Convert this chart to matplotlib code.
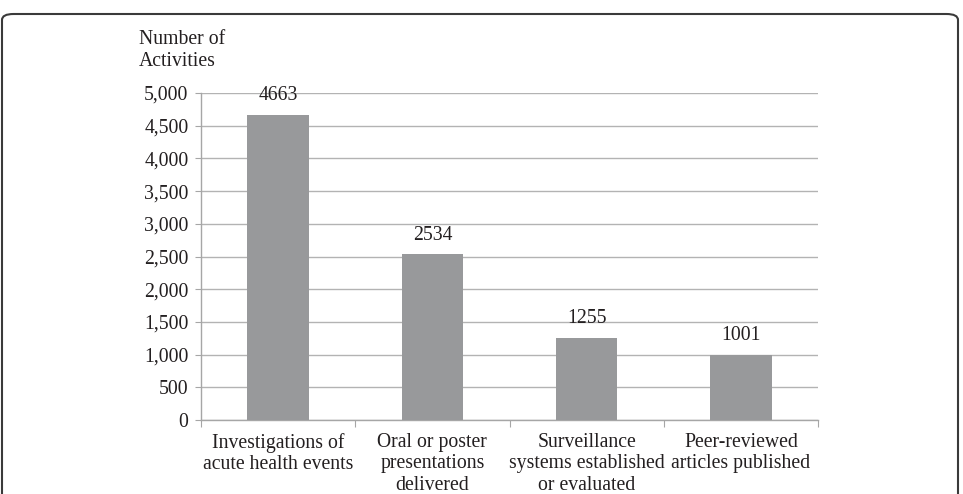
import matplotlib
matplotlib.use("Agg")
import matplotlib.pyplot as plt
from matplotlib.patches import FancyBboxPatch
import numpy as np

categories = ["Investigations of\nacute health events",
              "Oral or poster\npresentations\ndelivered",
              "Surveillance\nsystems established\nor evaluated",
              "Peer-reviewed\narticles published"]
values = [4663, 2534, 1255, 1001]
yticks = [0, 500, 1000, 1500, 2000, 2500, 3000, 3500, 4000, 4500, 5000]
ytick_labels = ["0", "500", "1,000", "1,500", "2,000", "2,500", "3,000", "3,500", "4,000", "4,500", "5,000"]

W, H = 963, 494
fig = plt.figure(figsize=(W/100, H/100), dpi=100)
plt.rcParams['font.family'] = ['Liberation Serif', 'DejaVu Serif']
fs = 14.2
txt_col = "#231f20"

# plot area in pixels: left 201, right 818, top(5000) 93, bottom(0) 420
ax = fig.add_axes([201/W, 1-420/H, (818-201)/W, (420-93)/H])
x = np.arange(len(values))
ax.bar(x, values, width=0.4, color="#98999b", zorder=3)
ax.set_xlim(-0.5, len(values)-0.5)
ax.set_ylim(0, 5000)
ax.set_yticks(yticks)
ax.set_yticklabels(ytick_labels, fontsize=fs, color=txt_col)
ax.yaxis.grid(True, color="#b3b3b3", linewidth=1.0, zorder=0)
ax.set_axisbelow(True)
for s in ["top", "right"]:
    ax.spines[s].set_visible(False)
for s in ["left", "bottom"]:
    ax.spines[s].set_color("#a6a6a6")
    ax.spines[s].set_linewidth(1.0)
ax.tick_params(axis='y', length=4, color="#a6a6a6", pad=5)
# category separators as ticks
ax.set_xticks(np.arange(-0.5, len(values), 1.0))
ax.set_xticklabels([])
ax.tick_params(axis='x', length=5, color="#a6a6a6")
for i, c in enumerate(categories):
    ax.text(i, -0.04, c, transform=ax.get_xaxis_transform(), ha='center', va='top',
            fontsize=fs, color=txt_col, linespacing=1.16)
for i, v in enumerate(values):
    ax.annotate(str(v), (i, v), xytext=(0, 7), textcoords='offset points',
                ha='center', va='bottom', fontsize=fs, color=txt_col)

fig.text(139/W, 1-30/H, "Number of\nActivities", ha='left', va='top', fontsize=fs,
         color=txt_col, linespacing=1.2)

# rounded frame
frame = FancyBboxPatch((2/W, -0.2), (958-2)/W, (1-14/H)+0.2,
                       boxstyle="round,pad=0,rounding_size=0.012",
                       transform=fig.transFigure, fill=False,
                       edgecolor="#3a3a3a", linewidth=1.5)
fig.patches.append(frame)

fig.savefig("out.png", dpi=100)
